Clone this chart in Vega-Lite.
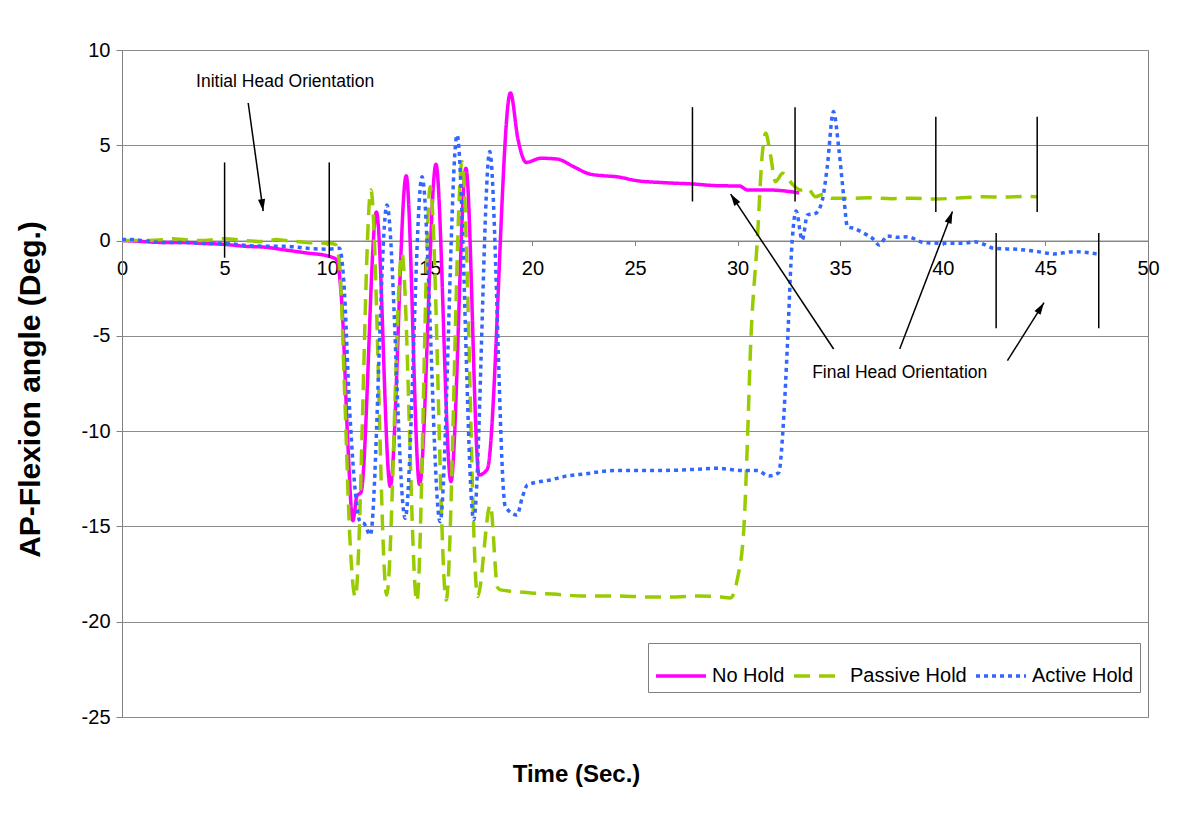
{
  "$schema": "https://vega.github.io/schema/vega-lite/v6.json",
  "width": 1026,
  "height": 667,
  "autosize": "none",
  "padding": {"left": 122, "top": 50, "right": 52, "bottom": 113},
  "background": "white",
  "config": {
    "font": "Liberation Sans",
    "view": {"stroke": "#808080", "strokeWidth": 1}
  },
  "datasets": {
    "series": [
      {"t": 0, "v": 0.0, "s": "No Hold"},
      {"t": 1, "v": -0.05, "s": "No Hold"},
      {"t": 2, "v": -0.1, "s": "No Hold"},
      {"t": 3, "v": -0.1, "s": "No Hold"},
      {"t": 4, "v": -0.15, "s": "No Hold"},
      {"t": 5, "v": -0.2, "s": "No Hold"},
      {"t": 6, "v": -0.3, "s": "No Hold"},
      {"t": 7, "v": -0.35, "s": "No Hold"},
      {"t": 8, "v": -0.5, "s": "No Hold"},
      {"t": 9, "v": -0.65, "s": "No Hold"},
      {"t": 10, "v": -0.8, "s": "No Hold"},
      {"t": 10.45, "v": -1.0, "s": "No Hold"},
      {"t": 10.75, "v": -4.0, "s": "No Hold"},
      {"t": 11.0, "v": -10.5, "s": "No Hold"},
      {"t": 11.25, "v": -14.7, "s": "No Hold"},
      {"t": 11.45, "v": -13.4, "s": "No Hold"},
      {"t": 11.65, "v": -13.2, "s": "No Hold"},
      {"t": 12.4, "v": 1.5, "s": "No Hold"},
      {"t": 13.07, "v": -12.9, "s": "No Hold"},
      {"t": 13.85, "v": 3.4, "s": "No Hold"},
      {"t": 14.5, "v": -12.8, "s": "No Hold"},
      {"t": 15.3, "v": 4.0, "s": "No Hold"},
      {"t": 16.03, "v": -12.65, "s": "No Hold"},
      {"t": 16.76, "v": 3.8, "s": "No Hold"},
      {"t": 17.4, "v": -12.3, "s": "No Hold"},
      {"t": 17.8, "v": -12.0, "s": "No Hold"},
      {"t": 18.93, "v": 7.75, "s": "No Hold"},
      {"t": 19.3, "v": 5.3, "s": "No Hold"},
      {"t": 19.7, "v": 4.1, "s": "No Hold"},
      {"t": 20.4, "v": 4.32, "s": "No Hold"},
      {"t": 21.2, "v": 4.28, "s": "No Hold"},
      {"t": 22.0, "v": 3.88, "s": "No Hold"},
      {"t": 22.8, "v": 3.49, "s": "No Hold"},
      {"t": 23.5, "v": 3.4, "s": "No Hold"},
      {"t": 24.1, "v": 3.35, "s": "No Hold"},
      {"t": 25.1, "v": 3.14, "s": "No Hold"},
      {"t": 26.4, "v": 3.04, "s": "No Hold"},
      {"t": 27.8, "v": 2.97, "s": "No Hold"},
      {"t": 29.0, "v": 2.88, "s": "No Hold"},
      {"t": 30.1, "v": 2.86, "s": "No Hold"},
      {"t": 30.5, "v": 2.65, "s": "No Hold"},
      {"t": 31.6, "v": 2.65, "s": "No Hold"},
      {"t": 33.0, "v": 2.5, "s": "No Hold"},

      {"t": 0, "v": 0.0, "s": "Passive Hold"},
      {"t": 1, "v": 0.0, "s": "Passive Hold"},
      {"t": 2, "v": 0.05, "s": "Passive Hold"},
      {"t": 2.5, "v": 0.1, "s": "Passive Hold"},
      {"t": 3, "v": 0.05, "s": "Passive Hold"},
      {"t": 4, "v": 0.0, "s": "Passive Hold"},
      {"t": 5, "v": 0.1, "s": "Passive Hold"},
      {"t": 6, "v": 0.0, "s": "Passive Hold"},
      {"t": 7, "v": -0.05, "s": "Passive Hold"},
      {"t": 7.5, "v": 0.05, "s": "Passive Hold"},
      {"t": 8, "v": 0.0, "s": "Passive Hold"},
      {"t": 9, "v": -0.1, "s": "Passive Hold"},
      {"t": 10, "v": -0.15, "s": "Passive Hold"},
      {"t": 10.4, "v": -0.2, "s": "Passive Hold"},
      {"t": 10.6, "v": -1.2, "s": "Passive Hold"},
      {"t": 10.85, "v": -8.0, "s": "Passive Hold"},
      {"t": 11.1, "v": -15.5, "s": "Passive Hold"},
      {"t": 11.37, "v": -18.7, "s": "Passive Hold"},
      {"t": 12.13, "v": 2.65, "s": "Passive Hold"},
      {"t": 12.9, "v": -18.6, "s": "Passive Hold"},
      {"t": 13.64, "v": -0.67, "s": "Passive Hold"},
      {"t": 14.37, "v": -18.94, "s": "Passive Hold"},
      {"t": 15.02, "v": 2.83, "s": "Passive Hold"},
      {"t": 15.8, "v": -18.86, "s": "Passive Hold"},
      {"t": 16.57, "v": 4.14, "s": "Passive Hold"},
      {"t": 17.33, "v": -18.68, "s": "Passive Hold"},
      {"t": 17.95, "v": -13.87, "s": "Passive Hold"},
      {"t": 18.3, "v": -18.2, "s": "Passive Hold"},
      {"t": 18.44, "v": -18.33, "s": "Passive Hold"},
      {"t": 19.0, "v": -18.4, "s": "Passive Hold"},
      {"t": 20.05, "v": -18.5, "s": "Passive Hold"},
      {"t": 21.0, "v": -18.55, "s": "Passive Hold"},
      {"t": 22.5, "v": -18.65, "s": "Passive Hold"},
      {"t": 24.0, "v": -18.65, "s": "Passive Hold"},
      {"t": 25.76, "v": -18.7, "s": "Passive Hold"},
      {"t": 27.0, "v": -18.7, "s": "Passive Hold"},
      {"t": 28.0, "v": -18.65, "s": "Passive Hold"},
      {"t": 29.0, "v": -18.68, "s": "Passive Hold"},
      {"t": 29.66, "v": -18.75, "s": "Passive Hold"},
      {"t": 29.98, "v": -17.8, "s": "Passive Hold"},
      {"t": 30.3, "v": -15.2, "s": "Passive Hold"},
      {"t": 30.47, "v": -10.8, "s": "Passive Hold"},
      {"t": 30.63, "v": -5.64, "s": "Passive Hold"},
      {"t": 30.96, "v": 0.0, "s": "Passive Hold"},
      {"t": 31.2, "v": 4.5, "s": "Passive Hold"},
      {"t": 31.37, "v": 5.63, "s": "Passive Hold"},
      {"t": 31.6, "v": 4.5, "s": "Passive Hold"},
      {"t": 31.85, "v": 3.09, "s": "Passive Hold"},
      {"t": 32.2, "v": 3.53, "s": "Passive Hold"},
      {"t": 32.7, "v": 2.92, "s": "Passive Hold"},
      {"t": 33.07, "v": 2.65, "s": "Passive Hold"},
      {"t": 33.4, "v": 2.74, "s": "Passive Hold"},
      {"t": 33.8, "v": 2.3, "s": "Passive Hold"},
      {"t": 34.2, "v": 2.44, "s": "Passive Hold"},
      {"t": 34.6, "v": 2.22, "s": "Passive Hold"},
      {"t": 35.5, "v": 2.22, "s": "Passive Hold"},
      {"t": 36.5, "v": 2.25, "s": "Passive Hold"},
      {"t": 37.5, "v": 2.2, "s": "Passive Hold"},
      {"t": 38.5, "v": 2.22, "s": "Passive Hold"},
      {"t": 39.66, "v": 2.18, "s": "Passive Hold"},
      {"t": 40.5, "v": 2.22, "s": "Passive Hold"},
      {"t": 41.5, "v": 2.28, "s": "Passive Hold"},
      {"t": 42.0, "v": 2.3, "s": "Passive Hold"},
      {"t": 43.0, "v": 2.28, "s": "Passive Hold"},
      {"t": 44.0, "v": 2.32, "s": "Passive Hold"},
      {"t": 44.6, "v": 2.3, "s": "Passive Hold"},

      {"t": 0, "v": 0.05, "s": "Active Hold"},
      {"t": 0.5, "v": 0.05, "s": "Active Hold"},
      {"t": 1, "v": 0.0, "s": "Active Hold"},
      {"t": 2, "v": -0.1, "s": "Active Hold"},
      {"t": 3, "v": -0.1, "s": "Active Hold"},
      {"t": 4, "v": -0.15, "s": "Active Hold"},
      {"t": 5, "v": -0.15, "s": "Active Hold"},
      {"t": 6, "v": -0.25, "s": "Active Hold"},
      {"t": 7, "v": -0.3, "s": "Active Hold"},
      {"t": 8, "v": -0.3, "s": "Active Hold"},
      {"t": 9, "v": -0.4, "s": "Active Hold"},
      {"t": 10, "v": -0.45, "s": "Active Hold"},
      {"t": 10.6, "v": -0.4, "s": "Active Hold"},
      {"t": 10.8, "v": -2.0, "s": "Active Hold"},
      {"t": 11.1, "v": -9.0, "s": "Active Hold"},
      {"t": 11.4, "v": -13.5, "s": "Active Hold"},
      {"t": 11.6, "v": -14.75, "s": "Active Hold"},
      {"t": 11.8, "v": -14.85, "s": "Active Hold"},
      {"t": 12.1, "v": -15.45, "s": "Active Hold"},
      {"t": 12.91, "v": 1.87, "s": "Active Hold"},
      {"t": 13.8, "v": -14.57, "s": "Active Hold"},
      {"t": 14.62, "v": 3.35, "s": "Active Hold"},
      {"t": 15.5, "v": -14.75, "s": "Active Hold"},
      {"t": 16.33, "v": 5.54, "s": "Active Hold"},
      {"t": 17.14, "v": -14.66, "s": "Active Hold"},
      {"t": 17.92, "v": 4.67, "s": "Active Hold"},
      {"t": 18.68, "v": -13.96, "s": "Active Hold"},
      {"t": 19.25, "v": -14.4, "s": "Active Hold"},
      {"t": 19.5, "v": -13.5, "s": "Active Hold"},
      {"t": 19.76, "v": -12.82, "s": "Active Hold"},
      {"t": 20.88, "v": -12.56, "s": "Active Hold"},
      {"t": 21.7, "v": -12.35, "s": "Active Hold"},
      {"t": 22.5, "v": -12.25, "s": "Active Hold"},
      {"t": 23.97, "v": -12.07, "s": "Active Hold"},
      {"t": 25.76, "v": -12.07, "s": "Active Hold"},
      {"t": 27.0, "v": -12.05, "s": "Active Hold"},
      {"t": 28.0, "v": -12.0, "s": "Active Hold"},
      {"t": 29.0, "v": -11.95, "s": "Active Hold"},
      {"t": 30.3, "v": -12.07, "s": "Active Hold"},
      {"t": 30.96, "v": -12.07, "s": "Active Hold"},
      {"t": 31.53, "v": -12.35, "s": "Active Hold"},
      {"t": 32.0, "v": -12.18, "s": "Active Hold"},
      {"t": 32.26, "v": -9.06, "s": "Active Hold"},
      {"t": 32.42, "v": -5.65, "s": "Active Hold"},
      {"t": 32.66, "v": 0.0, "s": "Active Hold"},
      {"t": 32.85, "v": 1.55, "s": "Active Hold"},
      {"t": 33.15, "v": 0.03, "s": "Active Hold"},
      {"t": 33.4, "v": 1.34, "s": "Active Hold"},
      {"t": 33.8, "v": 1.43, "s": "Active Hold"},
      {"t": 34.13, "v": 2.13, "s": "Active Hold"},
      {"t": 34.37, "v": 3.88, "s": "Active Hold"},
      {"t": 34.67, "v": 6.77, "s": "Active Hold"},
      {"t": 34.94, "v": 4.75, "s": "Active Hold"},
      {"t": 35.19, "v": 2.13, "s": "Active Hold"},
      {"t": 35.35, "v": 0.73, "s": "Active Hold"},
      {"t": 35.67, "v": 0.64, "s": "Active Hold"},
      {"t": 36.16, "v": 0.38, "s": "Active Hold"},
      {"t": 36.57, "v": 0.12, "s": "Active Hold"},
      {"t": 36.9, "v": -0.23, "s": "Active Hold"},
      {"t": 37.3, "v": 0.24, "s": "Active Hold"},
      {"t": 37.8, "v": 0.17, "s": "Active Hold"},
      {"t": 38.28, "v": 0.2, "s": "Active Hold"},
      {"t": 39.1, "v": -0.11, "s": "Active Hold"},
      {"t": 40.07, "v": -0.14, "s": "Active Hold"},
      {"t": 41.04, "v": -0.14, "s": "Active Hold"},
      {"t": 41.53, "v": -0.06, "s": "Active Hold"},
      {"t": 42.0, "v": -0.2, "s": "Active Hold"},
      {"t": 42.5, "v": -0.41, "s": "Active Hold"},
      {"t": 43.64, "v": -0.46, "s": "Active Hold"},
      {"t": 44.62, "v": -0.58, "s": "Active Hold"},
      {"t": 45.43, "v": -0.7, "s": "Active Hold"},
      {"t": 46.4, "v": -0.58, "s": "Active Hold"},
      {"t": 47.62, "v": -0.72, "s": "Active Hold"}
    ],
    "markers": [
      {"t": 5.0, "v1": 4.1, "v2": -0.9},
      {"t": 10.1, "v1": 4.1, "v2": -0.9},
      {"t": 27.8, "v1": 7.0, "v2": 2.05},
      {"t": 32.8, "v1": 7.0, "v2": 2.05},
      {"t": 39.66, "v1": 6.5, "v2": 1.5},
      {"t": 44.6, "v1": 6.5, "v2": 1.5},
      {"t": 42.6, "v1": 0.4, "v2": -4.6},
      {"t": 47.6, "v1": 0.4, "v2": -4.6}
    ],
    "arrows": [
      {"id": "a1", "t1": 6.15, "v1": 7.22, "t2": 6.88, "v2": 1.55},
      {"id": "a2", "t1": 34.68, "v1": -5.69, "t2": 29.66, "v2": 2.44},
      {"id": "a3", "t1": 37.9, "v1": -5.69, "t2": 40.47, "v2": 1.52},
      {"id": "a4", "t1": 43.15, "v1": -6.3, "t2": 44.93, "v2": -3.26}
    ],
    "notes": [
      {"t": 7.95, "v": 8.32, "label": "Initial Head Orientation"},
      {"t": 37.9, "v": -6.95, "label": "Final Head Orientation"}
    ]
  },
  "layer": [
    {
      "data": {"name": "series"},
      "mark": {"type": "line", "interpolate": "monotone", "strokeWidth": 3.5, "clip": true},
      "encoding": {
        "x": {
          "field": "t", "type": "quantitative",
          "scale": {"domain": [0, 50], "nice": false, "zero": false},
          "axis": {
            "values": [0, 5, 10, 15, 20, 25, 30, 35, 40, 45, 50],
            "labelExpr": "toString(datum.value)",
            "offset": -476.43,
            "grid": false,
            "domainColor": "#808080",
            "tickColor": "#808080",
            "tickSize": 5,
            "labelFontSize": 20,
            "labelColor": "black",
            "labelPadding": 13,
            "labelFlush": false,
            "title": "Time (Sec.)",
            "titleFontSize": 24,
            "titleFontWeight": "bold",
            "titleColor": "black",
            "titleBaseline": "middle",
            "titleAlign": "center",
            "titleX": 454,
            "titleY": 534
          }
        },
        "y": {
          "field": "v", "type": "quantitative",
          "scale": {"domain": [-25, 10], "nice": false, "zero": false},
          "axis": {
            "values": [-25, -20, -15, -10, -5, 0, 5, 10],
            "labelExpr": "toString(datum.value)",
            "grid": true,
            "gridColor": "#8c8c8c",
            "domainColor": "#808080",
            "tickColor": "#808080",
            "tickSize": 6,
            "labelFontSize": 20,
            "labelColor": "black",
            "labelPadding": 6,
            "title": "AP-Flexion angle (Deg.)",
            "titleFontSize": 30,
            "titleFontWeight": "bold",
            "titleColor": "black",
            "titleBaseline": "middle",
            "titleAlign": "center",
            "titleX": -92,
            "titleY": 339
          }
        },
        "color": {
          "field": "s", "type": "nominal",
          "scale": {"domain": ["No Hold", "Passive Hold", "Active Hold"], "range": ["#FF00FF", "#99CC00", "#3366FF"]},
          "legend": {
            "title": null, "orient": "none", "legendX": 526, "legendY": 593,
            "direction": "horizontal", "fillColor": "white", "strokeColor": "#808080",
            "padding": 6, "symbolType": "stroke", "symbolSize": 2500, "symbolStrokeWidth": 3.5,
            "labelFontSize": 20, "labelColor": "black", "labelOffset": 4, "columnPadding": 2
          }
        },
        "strokeDash": {
          "field": "s", "type": "nominal",
          "scale": {"domain": ["No Hold", "Passive Hold", "Active Hold"], "range": [[1, 0], [16, 9], [4, 4]]},
          "legend": {
            "title": null, "orient": "none", "legendX": 526, "legendY": 593,
            "direction": "horizontal", "fillColor": "white", "strokeColor": "#808080",
            "padding": 6, "symbolType": "stroke", "symbolSize": 2500, "symbolStrokeWidth": 3.5,
            "labelFontSize": 20, "labelColor": "black", "labelOffset": 4, "columnPadding": 2
          }
        }
      }
    },
    {
      "data": {"name": "markers"},
      "mark": {"type": "rule", "color": "black", "strokeWidth": 1.5},
      "encoding": {
        "x": {"field": "t", "type": "quantitative"},
        "y": {"field": "v1", "type": "quantitative"},
        "y2": {"field": "v2"}
      }
    },
    {
      "data": {"name": "arrows"},
      "mark": {"type": "rule", "color": "black", "strokeWidth": 1.5},
      "encoding": {
        "x": {"field": "t1", "type": "quantitative"},
        "y": {"field": "v1", "type": "quantitative"},
        "x2": {"field": "t2"},
        "y2": {"field": "v2"}
      }
    },
    {
      "data": {"name": "arrows"},
      "transform": [{"filter": "datum.id === 'a1'"}],
      "mark": {"type": "point", "shape": "M0,0L0.6,2L-0.6,2Z", "filled": true, "color": "black", "opacity": 1, "size": 144, "angle": 172.2},
      "encoding": {"x": {"field": "t2", "type": "quantitative"}, "y": {"field": "v2", "type": "quantitative"}}
    },
    {
      "data": {"name": "arrows"},
      "transform": [{"filter": "datum.id === 'a2'"}],
      "mark": {"type": "point", "shape": "M0,0L0.6,2L-0.6,2Z", "filled": true, "color": "black", "opacity": 1, "size": 144, "angle": 326.4},
      "encoding": {"x": {"field": "t2", "type": "quantitative"}, "y": {"field": "v2", "type": "quantitative"}}
    },
    {
      "data": {"name": "arrows"},
      "transform": [{"filter": "datum.id === 'a3'"}],
      "mark": {"type": "point", "shape": "M0,0L0.6,2L-0.6,2Z", "filled": true, "color": "black", "opacity": 1, "size": 144, "angle": 21},
      "encoding": {"x": {"field": "t2", "type": "quantitative"}, "y": {"field": "v2", "type": "quantitative"}}
    },
    {
      "data": {"name": "arrows"},
      "transform": [{"filter": "datum.id === 'a4'"}],
      "mark": {"type": "point", "shape": "M0,0L0.6,2L-0.6,2Z", "filled": true, "color": "black", "opacity": 1, "size": 144, "angle": 32.5},
      "encoding": {"x": {"field": "t2", "type": "quantitative"}, "y": {"field": "v2", "type": "quantitative"}}
    },
    {
      "data": {"name": "notes"},
      "mark": {"type": "text", "fontSize": 17.5, "color": "black", "align": "center", "baseline": "middle"},
      "encoding": {
        "x": {"field": "t", "type": "quantitative"},
        "y": {"field": "v", "type": "quantitative"},
        "text": {"field": "label"}
      }
    }
  ]
}
